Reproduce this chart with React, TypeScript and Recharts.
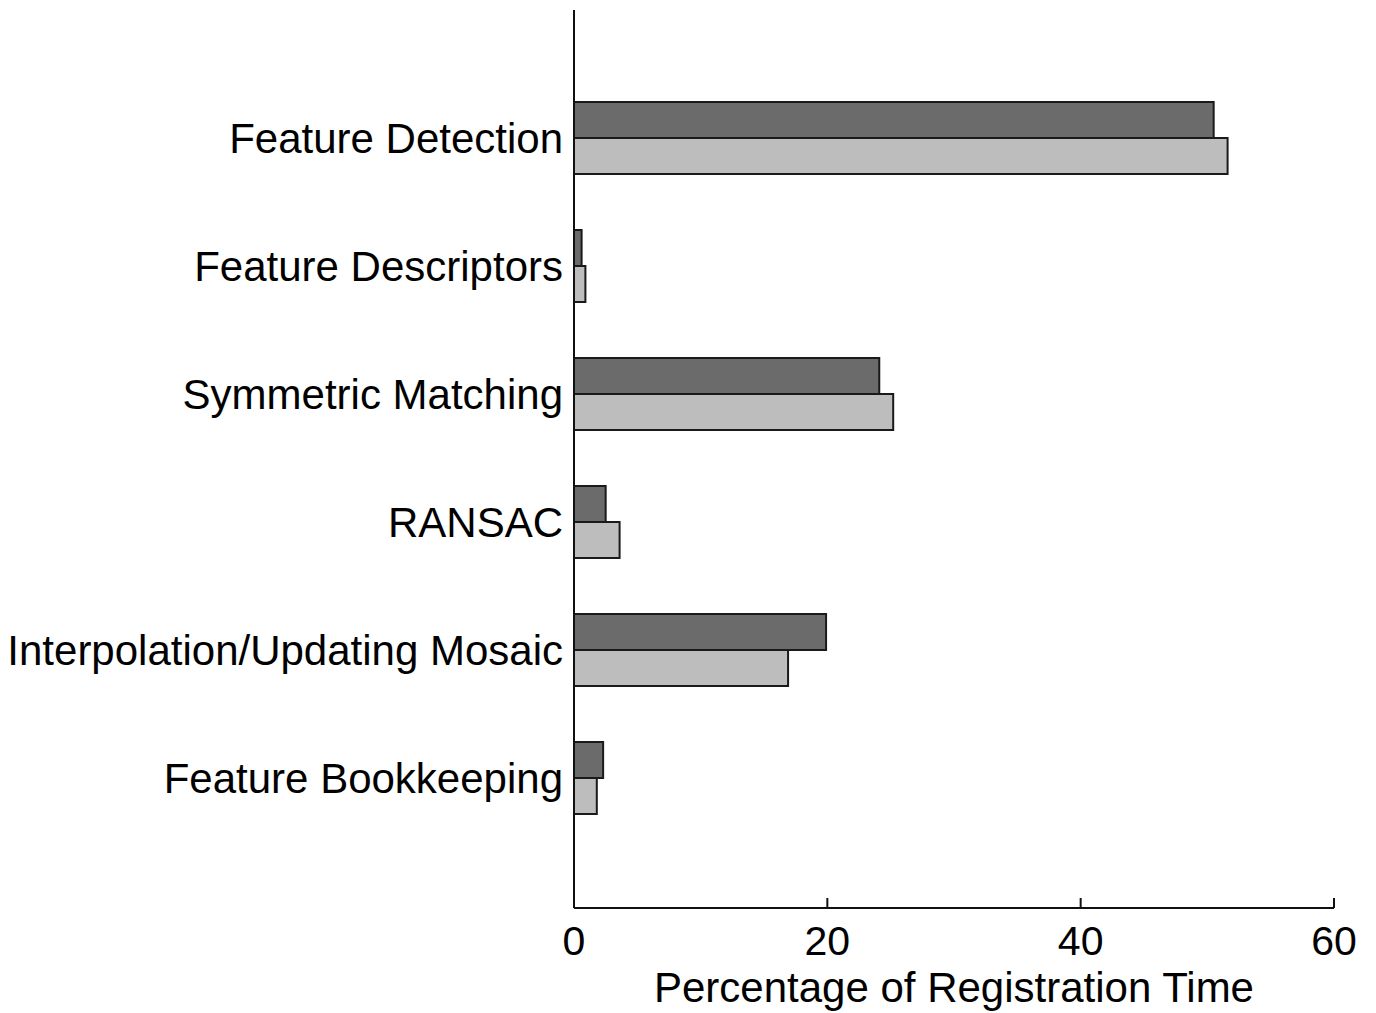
import { Bar, BarChart, XAxis, YAxis } from "recharts";

const categories = [
	"Feature Detection",
	"Feature Descriptors",
	"Symmetric Matching",
	"RANSAC",
	"Interpolation/Updating Mosaic",
	"Feature Bookkeeping",
];
const darkValues = [50.5, 0.6, 24.1, 2.5, 19.9, 2.3];
const lightValues = [51.6, 0.9, 25.2, 3.6, 16.9, 1.8];
const xTicks = [0, 20, 40, 60];

const data = categories.map((name, i) => ({
	name,
	dark: darkValues[i],
	light: lightValues[i],
}));

const font = "'Liberation Sans', Arial, Helvetica, sans-serif";

export default function App() {
	return (
		<div style={{ position: "absolute", left: 0, top: 0, background: "#fff" }}>
			<BarChart
				width={1376}
				height={1013}
				data={data}
				layout="vertical"
				margin={{ top: 10, right: 42, left: 0, bottom: 0 }}
				barGap={0}
				barSize={36}
			>
				<XAxis
					type="number"
					domain={[0, 60]}
					ticks={xTicks}
					height={105}
					stroke="#111"
					strokeWidth={2}
					tickSize={-10}
					tickMargin={28}
					tick={{ fill: "#000", fontSize: 41, fontFamily: font }}
					label={{
						value: "Percentage of Registration Time",
						position: "insideBottom",
						offset: 11,
						fill: "#000",
						fontSize: 42,
						fontFamily: font,
					}}
				/>
				<YAxis
					type="category"
					dataKey="name"
					width={574}
					stroke="#111"
					strokeWidth={2}
					tickLine={false}
					tickSize={0}
					tickMargin={11}
					padding={{ top: 64, bottom: 66 }}
					tick={{ fill: "#000", fontSize: 42, fontFamily: font }}
				/>
				<Bar
					dataKey="dark"
					fill="#6b6b6b"
					stroke="#1a1a1a"
					strokeWidth={2}
					isAnimationActive={false}
				/>
				<Bar
					dataKey="light"
					fill="#bdbdbd"
					stroke="#1a1a1a"
					strokeWidth={2}
					isAnimationActive={false}
				/>
			</BarChart>
		</div>
	);
}
